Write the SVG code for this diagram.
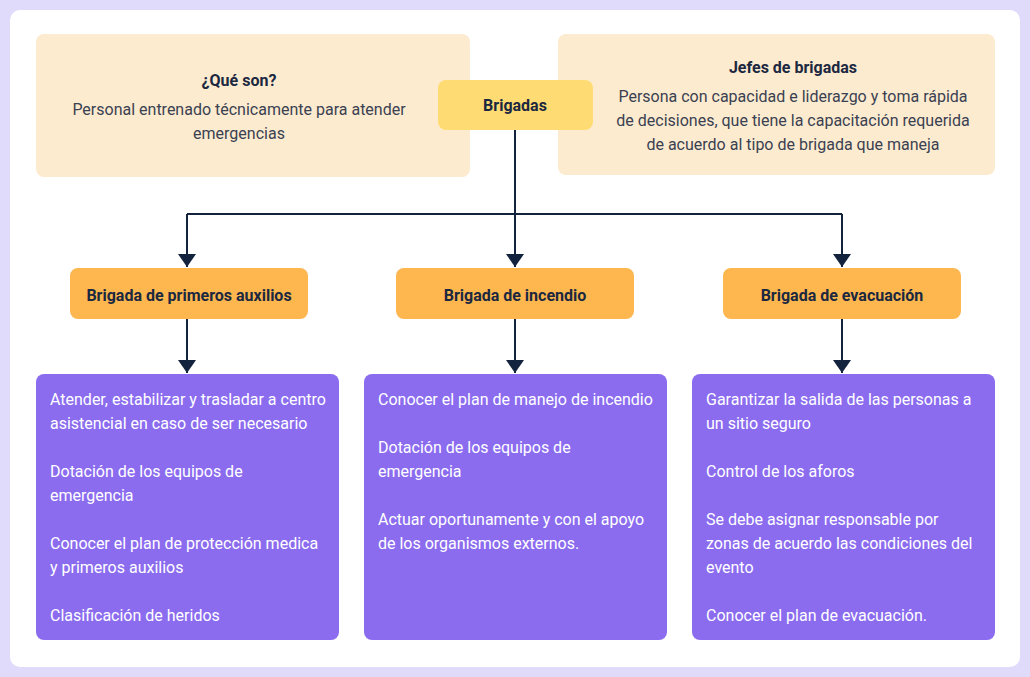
<svg xmlns="http://www.w3.org/2000/svg" width="1030" height="677" viewBox="0 0 1030 677">
<style>
.t{font-family:Roboto,"Liberation Sans",sans-serif;}
.h{font-size:16px;font-weight:bold;fill:#1b2840;text-anchor:middle;}
.d{font-size:16px;fill:#3a4150;text-anchor:middle;}
.w{font-size:16px;fill:#ffffff;}
.beige{fill:#fdebd0;}
.orange{fill:#fdb74e;}
.purple{fill:#8b6cef;}
.ln{stroke:#14233d;stroke-width:2;fill:none;}
</style>
<defs>
<marker id="ah" markerWidth="13" markerHeight="18" refX="13" refY="9" orient="auto" markerUnits="userSpaceOnUse" viewBox="0 0 13 18">
<path d="M0,0 L13,9 L0,18 Z" fill="#14233d"/>
</marker>
</defs>
<rect x="0" y="0" width="1030" height="677" fill="#e0dafb"/>
<rect x="10" y="10" width="1010" height="657" rx="10" fill="#ffffff"/>
<g id="connectors">
<path class="ln" d="M515,130 V214"/>
<path class="ln" d="M187,214 H842"/>
<path class="ln" d="M187,214 V267" marker-end="url(#ah)"/>
<path class="ln" d="M515,214 V267" marker-end="url(#ah)"/>
<path class="ln" d="M842,214 V267" marker-end="url(#ah)"/>
<path class="ln" d="M187,319 V373" marker-end="url(#ah)"/>
<path class="ln" d="M515,319 V373" marker-end="url(#ah)"/>
<path class="ln" d="M842,319 V373" marker-end="url(#ah)"/>
</g>
<g id="que-son">
<rect class="beige" x="36" y="34" width="434" height="143" rx="8"/>
<text class="t h" x="239" y="86">¿Qué son?</text>
<text class="t d" x="239" y="115">Personal entrenado técnicamente para atender</text>
<text class="t d" x="239" y="139">emergencias</text>
</g>
<g id="jefes">
<rect class="beige" x="558" y="34" width="437" height="141" rx="8"/>
<text class="t h" x="793" y="73">Jefes de brigadas</text>
<text class="t d" x="793" y="102">Persona con capacidad e liderazgo y toma rápida</text>
<text class="t d" x="793" y="126">de decisiones, que tiene la capacitación requerida</text>
<text class="t d" x="793" y="150">de acuerdo al tipo de brigada que maneja</text>
</g>
<g id="brigadas">
<rect x="438" y="80" width="155" height="50" rx="8" fill="#ffdc73"/>
<text class="t h" x="515" y="111">Brigadas</text>
</g>
<g id="primeros-auxilios">
<rect class="orange" x="70" y="268" width="238" height="51" rx="8"/>
<text class="t h" x="189" y="301">Brigada de primeros auxilios</text>
</g>
<g id="incendio">
<rect class="orange" x="396" y="268" width="238" height="51" rx="8"/>
<text class="t h" x="515" y="301">Brigada de incendio</text>
</g>
<g id="evacuacion">
<rect class="orange" x="723" y="268" width="238" height="51" rx="8"/>
<text class="t h" x="842" y="301">Brigada de evacuación</text>
</g>
<g id="lista-primeros-auxilios">
<rect class="purple" x="36" y="374" width="303" height="266" rx="8"/>
<text class="t w" x="50" y="405">Atender, estabilizar y trasladar a centro</text>
<text class="t w" x="50" y="429">asistencial en caso de ser necesario</text>
<text class="t w" x="50" y="477">Dotación de los equipos de</text>
<text class="t w" x="50" y="501">emergencia</text>
<text class="t w" x="50" y="549">Conocer el plan de protección medica</text>
<text class="t w" x="50" y="573">y primeros auxilios</text>
<text class="t w" x="50" y="621">Clasificación de heridos</text>
</g>
<g id="lista-incendio">
<rect class="purple" x="364" y="374" width="303" height="266" rx="8"/>
<text class="t w" x="378" y="405">Conocer el plan de manejo de incendio</text>
<text class="t w" x="378" y="453">Dotación de los equipos de</text>
<text class="t w" x="378" y="477">emergencia</text>
<text class="t w" x="378" y="525">Actuar oportunamente y con el apoyo</text>
<text class="t w" x="378" y="549">de los organismos externos.</text>
</g>
<g id="lista-evacuacion">
<rect class="purple" x="692" y="374" width="303" height="266" rx="8"/>
<text class="t w" x="706" y="405">Garantizar la salida de las personas a</text>
<text class="t w" x="706" y="429">un sitio seguro</text>
<text class="t w" x="706" y="477">Control de los aforos</text>
<text class="t w" x="706" y="525">Se debe asignar responsable por</text>
<text class="t w" x="706" y="549">zonas de acuerdo las condiciones del</text>
<text class="t w" x="706" y="573">evento</text>
<text class="t w" x="706" y="621">Conocer el plan de evacuación.</text>
</g>
</svg>
